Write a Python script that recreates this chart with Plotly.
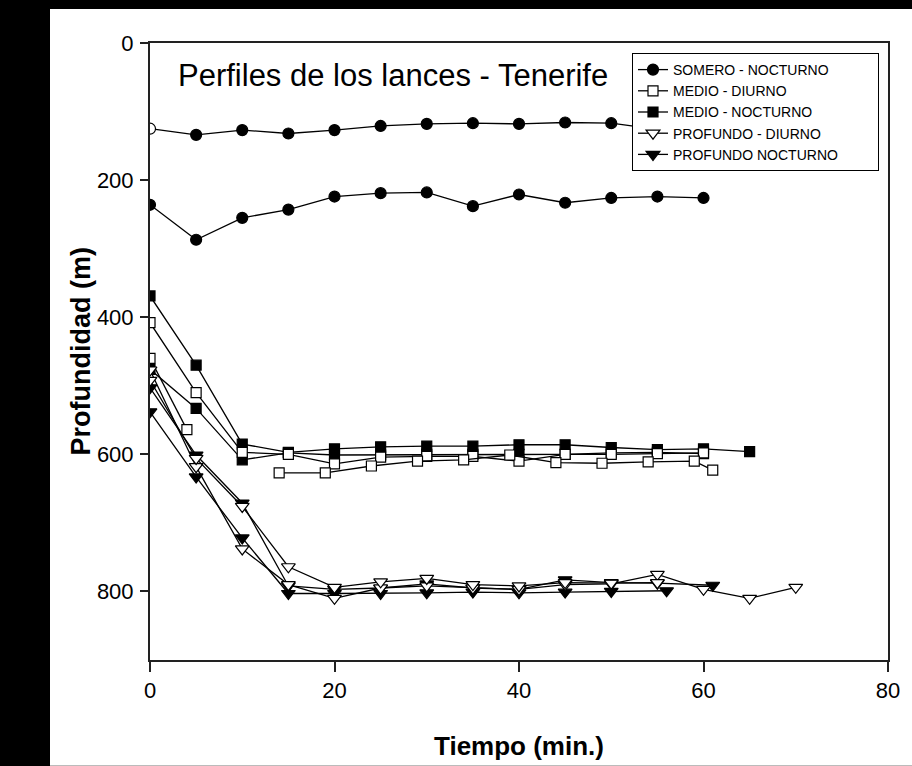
import plotly.graph_objects as go

# ---------------- data (minutes, depth in m) ----------------
somero_a_t = [0, 5, 10, 15, 20, 25, 30, 35, 40, 45, 50, 55, 60]
somero_a_d = [125, 134, 127, 132, 127, 121, 118, 117, 118, 116, 117, 126, 124]
somero_b_t = [0, 5, 10, 15, 20, 25, 30, 35, 40, 45, 50, 55, 60]
somero_b_d = [236, 287, 255, 243, 224, 219, 218, 238, 221, 233, 226, 224, 226]

medio_n1_t = [0, 5, 10, 15, 20, 25, 30, 35, 40, 45, 50, 55, 60, 65]
medio_n1_d = [369, 470, 585, 597, 592, 589, 588, 588, 586, 586, 590, 593, 592, 596]
medio_n2_t = [0, 5, 10, 15, 20, 25, 30, 35, 40, 45, 50, 55, 60]
medio_n2_d = [476, 533, 608, 598, 601, 601, 600, 600, 600, 600, 598, 597, 599]

medio_d1_t = [0, 5, 10, 15, 20, 25, 30, 35, 40, 45, 50, 55, 60]
medio_d1_d = [408, 510, 597, 600, 614, 604, 603, 603, 610, 600, 600, 599, 598]
medio_d2_t = [0, 4]
medio_d2_d = [460, 564]
medio_d3_t = [14, 19, 24, 29, 34, 39, 44, 49, 54, 59, 61]
medio_d3_d = [627, 627, 617, 610, 608, 601, 612, 613, 611, 610, 623]

prof_d1_t = [0, 5, 10, 15, 20, 25, 30, 35, 40, 45, 50, 55, 60, 65, 70]
prof_d1_d = [477, 618, 738, 790, 810, 795, 792, 795, 797, 790, 789, 775, 797, 810, 794]
prof_d2_t = [0, 5, 10, 15, 20, 25, 30, 35, 40, 45, 50, 55]
prof_d2_d = [492, 606, 676, 764, 794, 786, 781, 790, 792, 787, 788, 787]

prof_n1_t = [0, 5, 10, 15, 20, 25, 30, 35, 40, 45, 50, 55, 61]
prof_n1_d = [503, 601, 671, 792, 797, 795, 789, 795, 797, 783, 787, 788, 791]
prof_n2_t = [0, 5, 10, 15, 20, 25, 30, 35, 40, 45, 50, 56]
prof_n2_d = [538, 633, 722, 803, 803, 803, 802, 801, 802, 801, 800, 799]

x_ticks = [0, 20, 40, 60, 80]
y_ticks = [0, 200, 400, 600, 800]

FONT = "Liberation Sans, Arial, sans-serif"
LINE = dict(color="black", width=1.3)
PAD = "\u00a0" * 9  # widens the legend box like the reference

fig = go.Figure()


def add(t, d, name, symbol, fill, size, legend, rank, colors=None):
    fig.add_trace(go.Scatter(
        x=t, y=d, mode="lines+markers", name=name,
        showlegend=legend, legendrank=rank,
        line=LINE,
        marker=dict(symbol=symbol, size=size,
                    color=colors if colors is not None else fill,
                    line=dict(color="black", width=1.2)),
    ))


# SOMERO - NOCTURNO
add(somero_a_t, somero_a_d, "SOMERO - NOCTURNO", "circle", "black", 11, False, 1,
    colors=["white"] + ["black"] * (len(somero_a_t) - 1))
add(somero_b_t, somero_b_d, "SOMERO - NOCTURNO", "circle", "black", 11, True, 1)
# MEDIO - NOCTURNO
add(medio_n1_t, medio_n1_d, "MEDIO - NOCTURNO", "square", "black", 10, True, 3)
add(medio_n2_t, medio_n2_d, "MEDIO - NOCTURNO", "square", "black", 10, False, 3)
# MEDIO - DIURNO
add(medio_d1_t, medio_d1_d, "MEDIO - DIURNO", "square", "white", 10, True, 2)
add(medio_d2_t, medio_d2_d, "MEDIO - DIURNO", "square", "white", 10, False, 2)
add(medio_d3_t, medio_d3_d, "MEDIO - DIURNO", "square", "white", 10, False, 2)
# PROFUNDO NOCTURNO
add(prof_n1_t, prof_n1_d, "PROFUNDO NOCTURNO" + PAD, "triangle-down", "black", 12, True, 5)
add(prof_n2_t, prof_n2_d, "PROFUNDO NOCTURNO", "triangle-down", "black", 12, False, 5)
# PROFUNDO - DIURNO
add(prof_d1_t, prof_d1_d, "PROFUNDO - DIURNO", "triangle-down", "white", 12, True, 4)
add(prof_d2_t, prof_d2_d, "PROFUNDO - DIURNO", "triangle-down", "white", 12, False, 4)

# plot area: x 150..888 px, y 43..660 px
L, R, T, B = 150, 24, 43, 106
W, H = 912, 766
pw, ph = W - L - R, H - T - B


def px(xp):
    return (xp - L) / pw


def py(yp):
    return (H - B - yp) / ph


shapes = [
    dict(type="rect", xref="paper", yref="paper", x0=px(0), x1=px(50), y0=py(H), y1=py(0),
         fillcolor="black", line=dict(width=0), layer="below"),
    dict(type="rect", xref="paper", yref="paper", x0=px(0), x1=px(W), y0=py(9), y1=py(0),
         fillcolor="black", line=dict(width=0), layer="below"),
    dict(type="line", xref="paper", yref="paper", x0=px(50), x1=px(W), y0=py(765.5), y1=py(765.5),
         line=dict(color="#bbbbbb", width=1)),
]

fig.update_layout(
    width=W, height=H,
    margin=dict(l=L, r=R, t=T, b=B, pad=0),
    paper_bgcolor="white", plot_bgcolor="white",
    font=dict(family=FONT, color="black"),
    shapes=shapes,
    showlegend=True,
    legend=dict(
        x=px(879), xanchor="right", y=py(53), yanchor="top",
        bgcolor="white", bordercolor="black", borderwidth=1,
        font=dict(family=FONT, size=14, color="black"),
        tracegroupgap=0, itemwidth=30, traceorder="normal",
    ),
    annotations=[
        dict(text="Perfiles de los lances - Tenerife", xref="paper", yref="paper",
             x=px(176), y=py(75), xanchor="left", yanchor="middle", showarrow=False,
             font=dict(family=FONT, size=31, color="black")),
        dict(text="Tiempo (min.)", xref="paper", yref="paper",
             x=0.5, y=py(746), xanchor="center", yanchor="middle", showarrow=False,
             font=dict(family=FONT, size=26, color="black", weight="bold")),
        dict(text="Profundidad (m)", xref="paper", yref="paper", textangle=-90,
             x=px(80), y=0.5, xanchor="center", yanchor="middle", showarrow=False,
             font=dict(family=FONT, size=27, color="black", weight="bold")),
    ],
    xaxis=dict(
        range=[0, 80], tickvals=x_ticks, ticktext=[str(v) for v in x_ticks],
        ticks="outside", ticklen=10, tickwidth=1.5, tickcolor="#222",
        showline=True, linecolor="#222", linewidth=2, mirror=True,
        showgrid=False, zeroline=False,
        tickfont=dict(family=FONT, size=22, color="black"),
    ),
    yaxis=dict(
        range=[900, 0], tickvals=y_ticks, ticktext=[str(v) for v in y_ticks],
        ticks="outside", ticklen=8, tickwidth=1.5, tickcolor="#222",
        showline=True, linecolor="#222", linewidth=2, mirror=True,
        showgrid=False, zeroline=False,
        tickfont=dict(family=FONT, size=22, color="black"),
        ticklabelstandoff=2,
    ),
)

fig.write_html("out.html")
